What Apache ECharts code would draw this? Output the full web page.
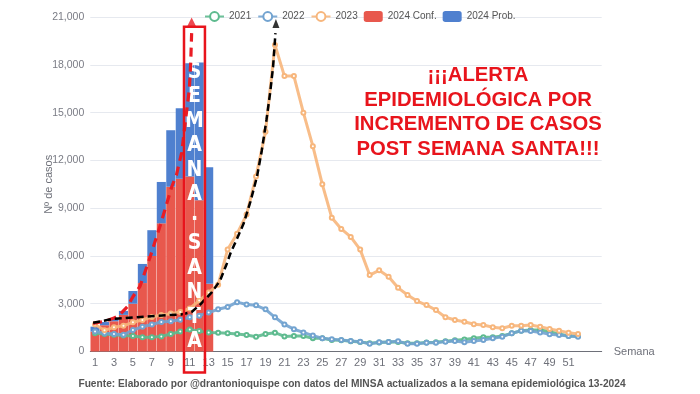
<!DOCTYPE html>
<html><head><meta charset="utf-8">
<script src="https://cdn.jsdelivr.net/npm/echarts@6/dist/echarts.min.js"></script>
<style>html,body{margin:0;padding:0;background:#fff}#c{width:700px;height:394px}</style>
</head><body><div id="c"></div>
<script>
const weeks = ['1','2','3','4','5','6','7','8','9','10','11','12','13','14','15','16','17','18','19','20','21','22','23','24','25','26','27','28','29','30','31','32','33','34','35','36','37','38','39','40','41','42','43','44','45','46','47','48','49','50','51','52','53','54'];
const y2021 = [1150,1100,1050,1000,970,900,890,950,1100,1250,1380,1280,1200,1180,1140,1100,1040,930,1100,1180,950,970,970,830,830,720,700,650,600,520,560,590,600,520,520,560,580,640,700,760,830,890,890,970,1140,1310,1350,1350,1250,1100,970,970];
const y2022 = [1250,1150,1100,1050,1350,1550,1700,1850,1900,2000,2150,2250,2450,2650,2800,3100,2950,2900,2650,2150,1700,1400,1200,1000,830,770,720,660,620,480,580,600,640,480,480,550,550,620,660,580,660,720,830,930,1140,1300,1290,1200,1080,1040,970,930];
const y2023 = [1700,1330,1520,1620,1830,1980,2170,2290,2380,2480,2700,3200,3700,4200,6400,7400,8600,11000,13800,19250,17300,17300,15000,12900,10500,8400,7700,7200,6400,4800,5100,4700,4000,3550,3170,2920,2600,2150,1980,1870,1710,1660,1520,1460,1620,1620,1660,1560,1410,1310,1180,1100];
const conf2024 = [1250,1650,1900,2300,3000,4300,6000,8050,10350,10850,11000,9500,4250];
const prob2024 = [310,200,200,250,800,1200,1620,2600,3550,4430,7100,8650,7320];
const redTrend = [[0.8,1770],[2.0,1900],[3.0,2100],[3.6,2300],[4.4,2800],[5.0,3440],[5.75,4100],[6.8,5900],[7.9,7950],[9.1,10350],[9.6,11100],[10.15,12500],[10.6,14750],[10.95,16430],[11.1,18100],[11.2,20000]];
const redTip = [[11.2,20700]];
const blackTrend = [[0.8,1800],[2.9,2050],[6.5,2200],[10.1,2330],[11.2,2480],[12.1,2950],[13.3,3700],[14.2,4450],[14.9,5500],[15.3,6170],[16.0,7100],[16.7,8050],[17.4,9400],[18.1,10980],[18.6,12600],[19.1,14540],[19.5,16300],[19.8,17890],[20.05,20000]];
const blackTip = [[20.1,20600]];
const yMin = 0, yMax = 21000, yStep = 3000;
const legendNames = ['2021','2022','2023','2024 Conf.','2024 Prob.'];
const alertLines = ['¡¡¡ALERTA','EPIDEMIOLÓGICA POR','INCREMENTO DE CASOS','POST SEMANA SANTA!!!'];
const boxLetters = ['S','E','M','A','N','A','·','S','A','N','T','A'];
const footerText = 'Fuente: Elaborado por @drantonioquispe con datos del MINSA actualizados a la semana epidemiológica 13-2024';

const chart = echarts.init(document.getElementById('c'), null, {renderer:'canvas'});
const lineSeries = (name, data, color) => ({
  name, type:'line', data, symbol:'emptyCircle', symbolSize:4, z:4,
  lineStyle:{width:3, color, opacity:0.9}, itemStyle:{color, borderWidth:1.2}
});
chart.setOption({
  animation:false,
  grid:{left:90.3, right:98.3, top:17.2, bottom:42.5},
  legend:{data:legendNames, top:6, left:199, itemWidth:19, itemHeight:11, itemGap:6,
    textStyle:{fontSize:10, color:'#555'}},
  xAxis:[{type:'category', data:weeks, boundaryGap:true,
    name:'Semana', nameLocation:'end', nameGap:12, nameTextStyle:{color:'#6e7079', fontSize:11, verticalAlign:'middle'},
    axisLine:{lineStyle:{color:'#6e7079'}}, axisTick:{interval:1, length:5},
    axisLabel:{interval:1, fontSize:11, color:'#6e7079', margin:6, formatter:v => (+v > 52 ? '' : v)}},
    {type:'value', min:0.5, max:54.5, show:false}],
  yAxis:{type:'value', min:yMin, max:yMax, interval:yStep,
    name:'Nº de casos', nameLocation:'middle', nameGap:36, nameMoveOverlap:false,
    nameTextStyle:{color:'#6e7079', fontSize:11},
    axisLine:{show:false}, axisTick:{show:false},
    splitLine:{lineStyle:{color:'#e6e9ef'}},
    axisLabel:{fontSize:10.5, color:'#7a7c85', margin:6, formatter:v => v.toLocaleString('en-US')}},
  series:[
    {name:'2024 Conf.', type:'bar', stack:'t', data:conf2024, barCategoryGap:'4%', itemStyle:{color:'#e8584d'}, z:2},
    {name:'2024 Prob.', type:'bar', stack:'t', data:prob2024, barCategoryGap:'4%', itemStyle:{color:'#4f80cf'}, z:2},
    lineSeries('2021', y2021, '#5dba8e'),
    lineSeries('2022', y2022, '#72a3d0'),
    lineSeries('2023', y2023, '#f7b67c'),
    {type:'line', xAxisIndex:1, data:redTrend, symbol:'none', z:10, silent:true,
      lineStyle:{color:'#ea1c24', width:3.2, type:[9,6]}},
    {type:'scatter', xAxisIndex:1, data:redTip, symbol:'triangle', symbolSize:[9,9], z:10, silent:true, itemStyle:{color:'#ea1c24'}},
    {type:'line', xAxisIndex:1, data:blackTrend, symbol:'none', z:10, silent:true,
      lineStyle:{color:'#000', width:2.5, type:[7,4]}},
    {type:'scatter', xAxisIndex:1, data:blackTip, symbol:'triangle', symbolSize:[7,9], z:10, silent:true, itemStyle:{color:'#000'}}
  ]
});

const bx0 = chart.convertToPixel({xAxisIndex:1}, 10.5) - 1;
const bx1 = chart.convertToPixel({xAxisIndex:1}, 12.5) + 1;
const yZero = chart.convertToPixel({yAxisIndex:0}, 0);
const yTop = chart.convertToPixel({yAxisIndex:0}, 20400);
const bcx = (bx0 + bx1) / 2;
chart.setOption({
  graphic:[
    {type:'text', z:6, x:bcx, y:60, style:{text:boxLetters.join('\n'), fill:'#fff', align:'center',
      font:'bold 21px "Liberation Sans Narrow", "DejaVu Sans Condensed", sans-serif', lineHeight:24.5}},
    {type:'rect', z:12, shape:{x:bx0, y:yTop, width:bx1-bx0, height:(yZero+21)-yTop},
      style:{fill:'none', stroke:'#e8141c', lineWidth:2.5}},
    {type:'text', z:12, x:478, y:63, style:{text:alertLines.join('\n'), fill:'#e8141c', align:'center',
      font:'bold 20.3px "Liberation Sans", Arial, sans-serif', lineHeight:24.7}},
    {type:'text', z:12, x:352, y:379, style:{text:footerText, fill:'#555', align:'center',
      font:'bold 10.2px "Liberation Sans", Arial, sans-serif'}}
  ]
});
</script></body></html>
